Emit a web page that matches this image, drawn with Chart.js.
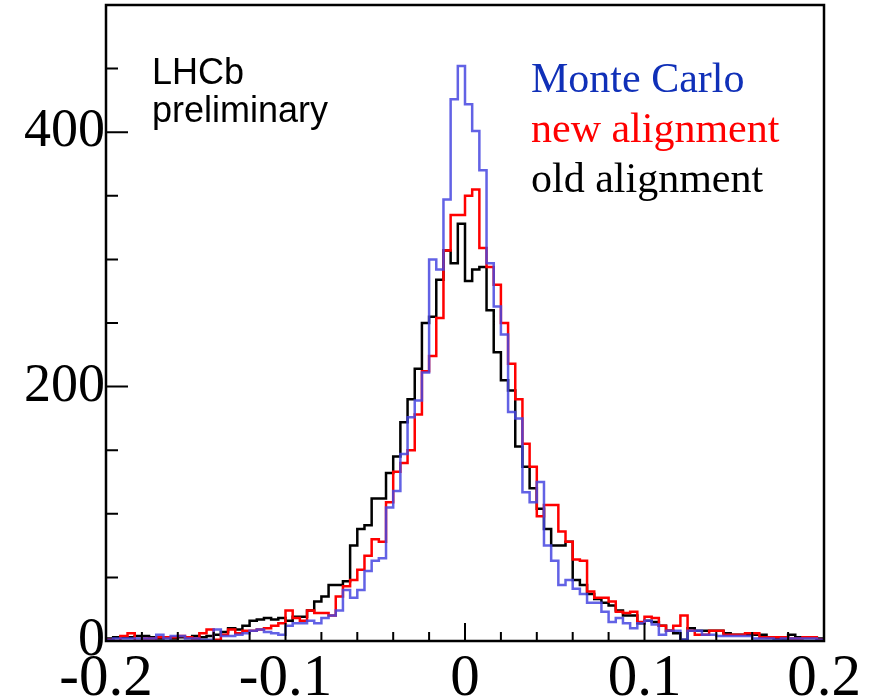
<!DOCTYPE html>
<html>
<head>
<meta charset="utf-8">
<script src="https://cdn.jsdelivr.net/npm/chart.js@4.4.1/dist/chart.umd.min.js"></script>
<style>
  html, body { margin: 0; padding: 0; background: #fff; overflow: hidden; }
  #wrap { width: 869px; height: 740px; }
</style>
</head>
<body>
<div id="wrap"><canvas id="chart"></canvas></div>
<script>
// histogram binning: 100 bins of 0.004 between -0.2 and 0.2
const xMin = -0.2, xMax = 0.2, binWidth = 0.004;
const xTicks = [-0.2, -0.1, 0, 0.1, 0.2];
const yTicks = [0, 200, 400];

const seriesNames = ['Monte Carlo', 'new alignment', 'old alignment'];

const monteCarlo = [
  1, 2, 2, 2, 2, 2, 2, 5, 2, 4,
  4, 2, 2, 1, 1, 9, 4, 4, 5, 6,
  8, 9, 7, 6, 5, 12, 14, 14, 16, 14,
  18, 20, 24, 40, 34, 40, 55, 63, 65, 105,
  118, 147, 176, 189, 211, 300, 292, 347, 426, 452,
  422, 401, 370, 297, 263, 241, 180, 175, 117, 109,
  125, 75, 63, 44, 48, 41, 37, 30, 30, 23,
  15, 18, 14, 10, 14, 16, 13, 5, 8, 8,
  1, 8, 8, 5, 5, 4, 4, 4, 4, 4,
  2, 2, 2, 1, 2, 2, 2, 2, 2, 1
];
const newAlignment = [
  1, 0, 4, 6, 0, 2, 2, 3, 3, 3,
  4, 3, 2, 6, 9, 1, 5, 9, 6, 8,
  8, 9, 10, 12, 14, 24, 18, 16, 24, 22,
  22, 20, 35, 43, 48, 56, 67, 80, 78, 109,
  133, 140, 150, 178, 212, 224, 254, 307, 335, 335,
  350, 355, 309, 294, 280, 250, 218, 190, 155, 137,
  98, 107, 107, 86, 78, 64, 63, 39, 34, 34,
  31, 23, 22, 23, 15, 19, 18, 12, 8, 12,
  20, 8, 5, 5, 8, 8, 5, 5, 5, 6,
  6, 3, 3, 3, 3, 2, 2, 3, 3, 1
];
const oldAlignment = [
  2, 3, 3, 3, 4, 4, 3, 2, 3, 2,
  3, 3, 4, 3, 4, 5, 7, 10, 9, 12,
  16, 17, 18, 17, 18, 16, 19, 19, 24, 31,
  35, 44, 44, 47, 75, 88, 91, 112, 112, 132,
  145, 172, 190, 214, 250, 255, 284, 307, 297, 328,
  283, 292, 294, 260, 227, 205, 197, 153, 137, 120,
  104, 88, 75, 75, 78, 48, 44, 37, 33, 30,
  28, 24, 20, 20, 14, 16, 15, 12, 8, 6,
  1, 10, 8, 8, 8, 8, 6, 5, 5, 5,
  5, 5, 3, 2, 2, 5, 3, 3, 3, 2
];

// bin counts -> points at the bin left edges, plus the closing right edge
function toSteps(counts) {
  const pts = counts.map((c, i) => ({ x: xMin + i * binWidth, y: c }));
  pts.push({ x: xMax, y: counts[counts.length - 1] });
  return pts;
}

const serif = 'Liberation Serif, Times New Roman, serif';
const legendColors = ['#1030b8', '#ff0000', '#000000'];

// ROOT-like frame with inward ticks
const framePlugin = {
  id: 'frame',
  afterDatasetsDraw(chart) {
    const { ctx, chartArea: a, scales: { x, y } } = chart;
    ctx.save();
    ctx.strokeStyle = '#000';
    ctx.lineWidth = 2.5;
    ctx.strokeRect(a.left, a.top, a.right - a.left, a.bottom - a.top);
    ctx.lineWidth = 2;
    ctx.beginPath();
    for (let k = 0; k <= 20; k++) {
      const px = x.getPixelForValue(xMin + k * 0.02);
      const len = k % 5 === 0 ? 18 : 9;
      ctx.moveTo(px, a.bottom);
      ctx.lineTo(px, a.bottom - len);
    }
    for (let k = 0; k <= 10; k++) {
      const py = y.getPixelForValue(k * 50);
      const len = k % 4 === 0 ? 22 : 12;
      ctx.moveTo(a.left, py);
      ctx.lineTo(a.left + len, py);
    }
    ctx.stroke();

    // labels
    ctx.textBaseline = 'alphabetic';
    ctx.textAlign = 'left';
    ctx.fillStyle = '#000';
    ctx.font = '36px Liberation Sans, Arial, sans-serif';
    ctx.fillText('LHCb', a.left + 46, a.top + 79);
    ctx.fillText('preliminary', a.left + 46, a.top + 117);

    ctx.font = '42px ' + serif;
    chart.data.datasets.forEach((ds, i) => {
      ctx.fillStyle = legendColors[i];
      ctx.fillText(ds.label, a.left + 425, a.top + 87 + i * 50);
    });
    ctx.restore();
  }
};

const noPad = s => { s.paddingTop = 0; s.paddingBottom = 0; s.paddingLeft = 0; s.paddingRight = 0; };

new Chart(document.getElementById('chart'), {
  type: 'line',
  data: {
    datasets: [
      { label: seriesNames[0], data: toSteps(monteCarlo), borderColor: 'rgba(70,70,225,0.85)' },
      { label: seriesNames[1], data: toSteps(newAlignment), borderColor: '#ff0000' },
      { label: seriesNames[2], data: toSteps(oldAlignment), borderColor: '#000000' }
    ].map(d => Object.assign(d, { stepped: 'before', pointRadius: 0, borderWidth: 2.5, fill: false }))
  },
  options: {
    responsive: true,
    maintainAspectRatio: false,
    animation: false,
    layout: { padding: { top: 5, right: 45, left: 0, bottom: 0 } },
    plugins: { legend: { display: false }, tooltip: { enabled: false } },
    scales: {
      x: {
        type: 'linear', min: xMin, max: xMax,
        afterBuildTicks: s => { s.ticks = xTicks.map(v => ({ value: v })); },
        afterFit: s => { s.height = 99; noPad(s); },
        grid: { display: false, drawTicks: false, tickLength: 0 }, border: { display: false },
        ticks: {
          color: '#000', font: { family: serif, size: 59 }, padding: 3,
          maxRotation: 0, autoSkip: false,
          callback: v => (Math.abs(v) < 1e-9 ? '0' : v.toFixed(1))
        }
      },
      y: {
        min: 0, max: 500,
        afterBuildTicks: s => { s.ticks = yTicks.map(v => ({ value: v })); },
        afterFit: s => { s.width = 106; noPad(s); },
        grid: { display: false, drawTicks: false, tickLength: 0 }, border: { display: false },
        ticks: { color: '#000', font: { family: serif, size: 54 }, padding: 1 }
      }
    }
  },
  plugins: [framePlugin]
});
</script>
</body>
</html>
